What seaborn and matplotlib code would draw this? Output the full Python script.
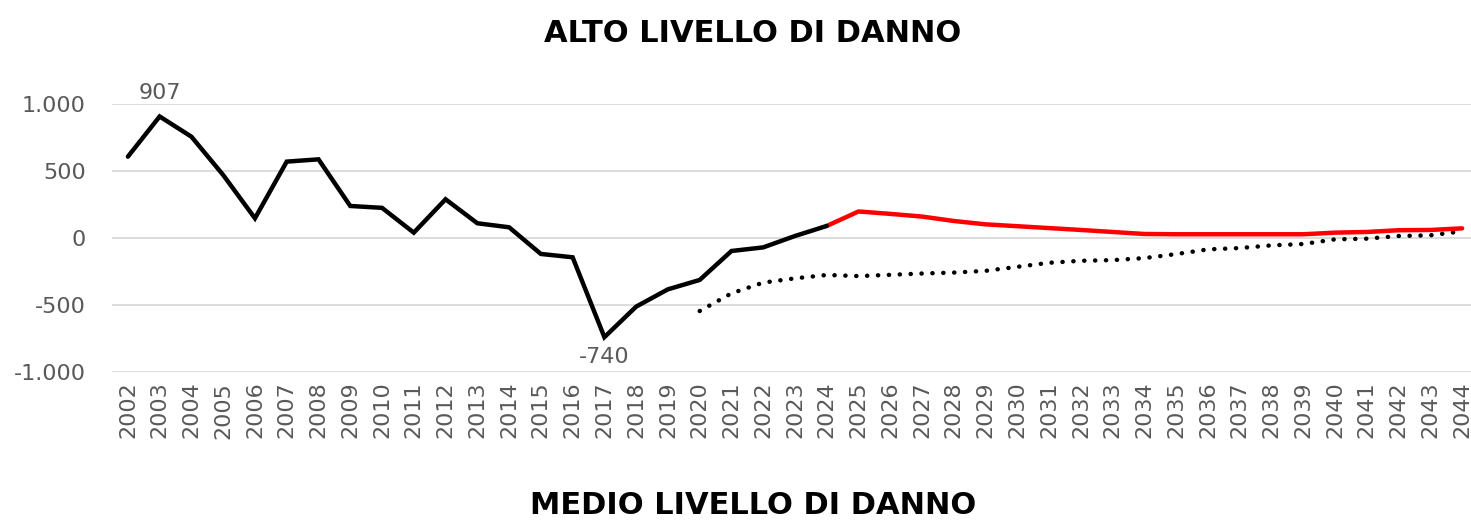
import numpy as np
import pandas as pd
import matplotlib
matplotlib.use("Agg")
import matplotlib.pyplot as plt
import seaborn as sns

years = list(range(2002, 2045))

hist_years = list(range(2002, 2025))
hist_values = [607, 907, 756, 470, 147, 570, 587, 239, 225, 40, 289, 110, 80,
               -119, -144, -740, -512, -383, -313, -97, -70, 15, 90]

proj_years = list(range(2024, 2045))
proj_values = [90, 198, 180, 160, 127, 102, 88, 74, 60, 45, 30, 28, 28, 28, 28,
               28, 40, 45, 58, 60, 72]

dot_years = list(range(2020, 2045))
dot_values = [-545, -413, -333, -301, -276, -284, -275, -265, -258, -245, -215,
              -185, -170, -165, -150, -120, -85, -75, -55, -45, -10, -5, 15,
              20, 50]

ytick_vals = [-1000, -500, 0, 500, 1000]
ytick_labels = ["-1.000", "-500", "0", "500", "1.000"]

title = "ALTO LIVELLO DI DANNO"
next_title = "MEDIO LIVELLO DI DANNO"

sns.set_theme(style="white")
plt.rcParams['font.family'] = ['DejaVu Sans']

fig = plt.figure(figsize=(14.71, 5.23), dpi=100)
ax = fig.add_axes([112 / 1471, (523 - 372) / 523, (1478 - 112) / 1471, 268 / 523])

df_h = pd.DataFrame({"year": hist_years, "value": hist_values})
df_p = pd.DataFrame({"year": proj_years, "value": proj_values})
df_d = pd.DataFrame({"year": dot_years, "value": dot_values})

sns.lineplot(data=df_d, x="year", y="value", ax=ax, color="black", lw=3.2,
             linestyle=(0, (0.05, 2.4)), dash_capstyle="round", zorder=2)
sns.lineplot(data=df_p, x="year", y="value", ax=ax, color="#ff0000", lw=3.2, zorder=3,
             solid_capstyle="round")
sns.lineplot(data=df_h, x="year", y="value", ax=ax, color="black", lw=3.2, zorder=4,
             solid_joinstyle="miter")

ax.set_xlim(2001.5, 2044.5)
ax.set_ylim(-1000, 1000)
ax.set_yticks(ytick_vals)
ax.set_yticklabels(ytick_labels)
ax.set_xticks(years)
ax.set_xticklabels([str(y) for y in years], rotation=90)
ax.tick_params(axis="both", colors="#595959", labelsize=16, length=0)
ax.tick_params(axis="x", pad=7)
ax.tick_params(axis="y", pad=19)
ax.grid(axis="y", color="#d9d9d9", lw=1.3)
ax.set_axisbelow(True)
for s in ax.spines.values():
    s.set_visible(False)
ax.set_xlabel("")
ax.set_ylabel("")

i_max = int(np.argmax(hist_values))
i_min = int(np.argmin(hist_values))
ax.annotate(f"{hist_values[i_max]}", (hist_years[i_max], hist_values[i_max]),
            xytext=(0, 10), textcoords="offset points", ha="center", va="bottom",
            color="#595959", fontsize=16)
ax.annotate(f"{hist_values[i_min]}", (hist_years[i_min], hist_values[i_min]),
            xytext=(0, -7), textcoords="offset points", ha="center", va="top",
            color="#595959", fontsize=16)

fig.text(753 / 1471, 1 - 34 / 523, title, ha="center", va="center",
         fontsize=22, fontweight="bold", color="black")
fig.text(753 / 1471, 3 / 523, next_title, ha="center", va="bottom",
         fontsize=22, fontweight="bold", color="black")

fig.savefig("out.png", dpi=100)
